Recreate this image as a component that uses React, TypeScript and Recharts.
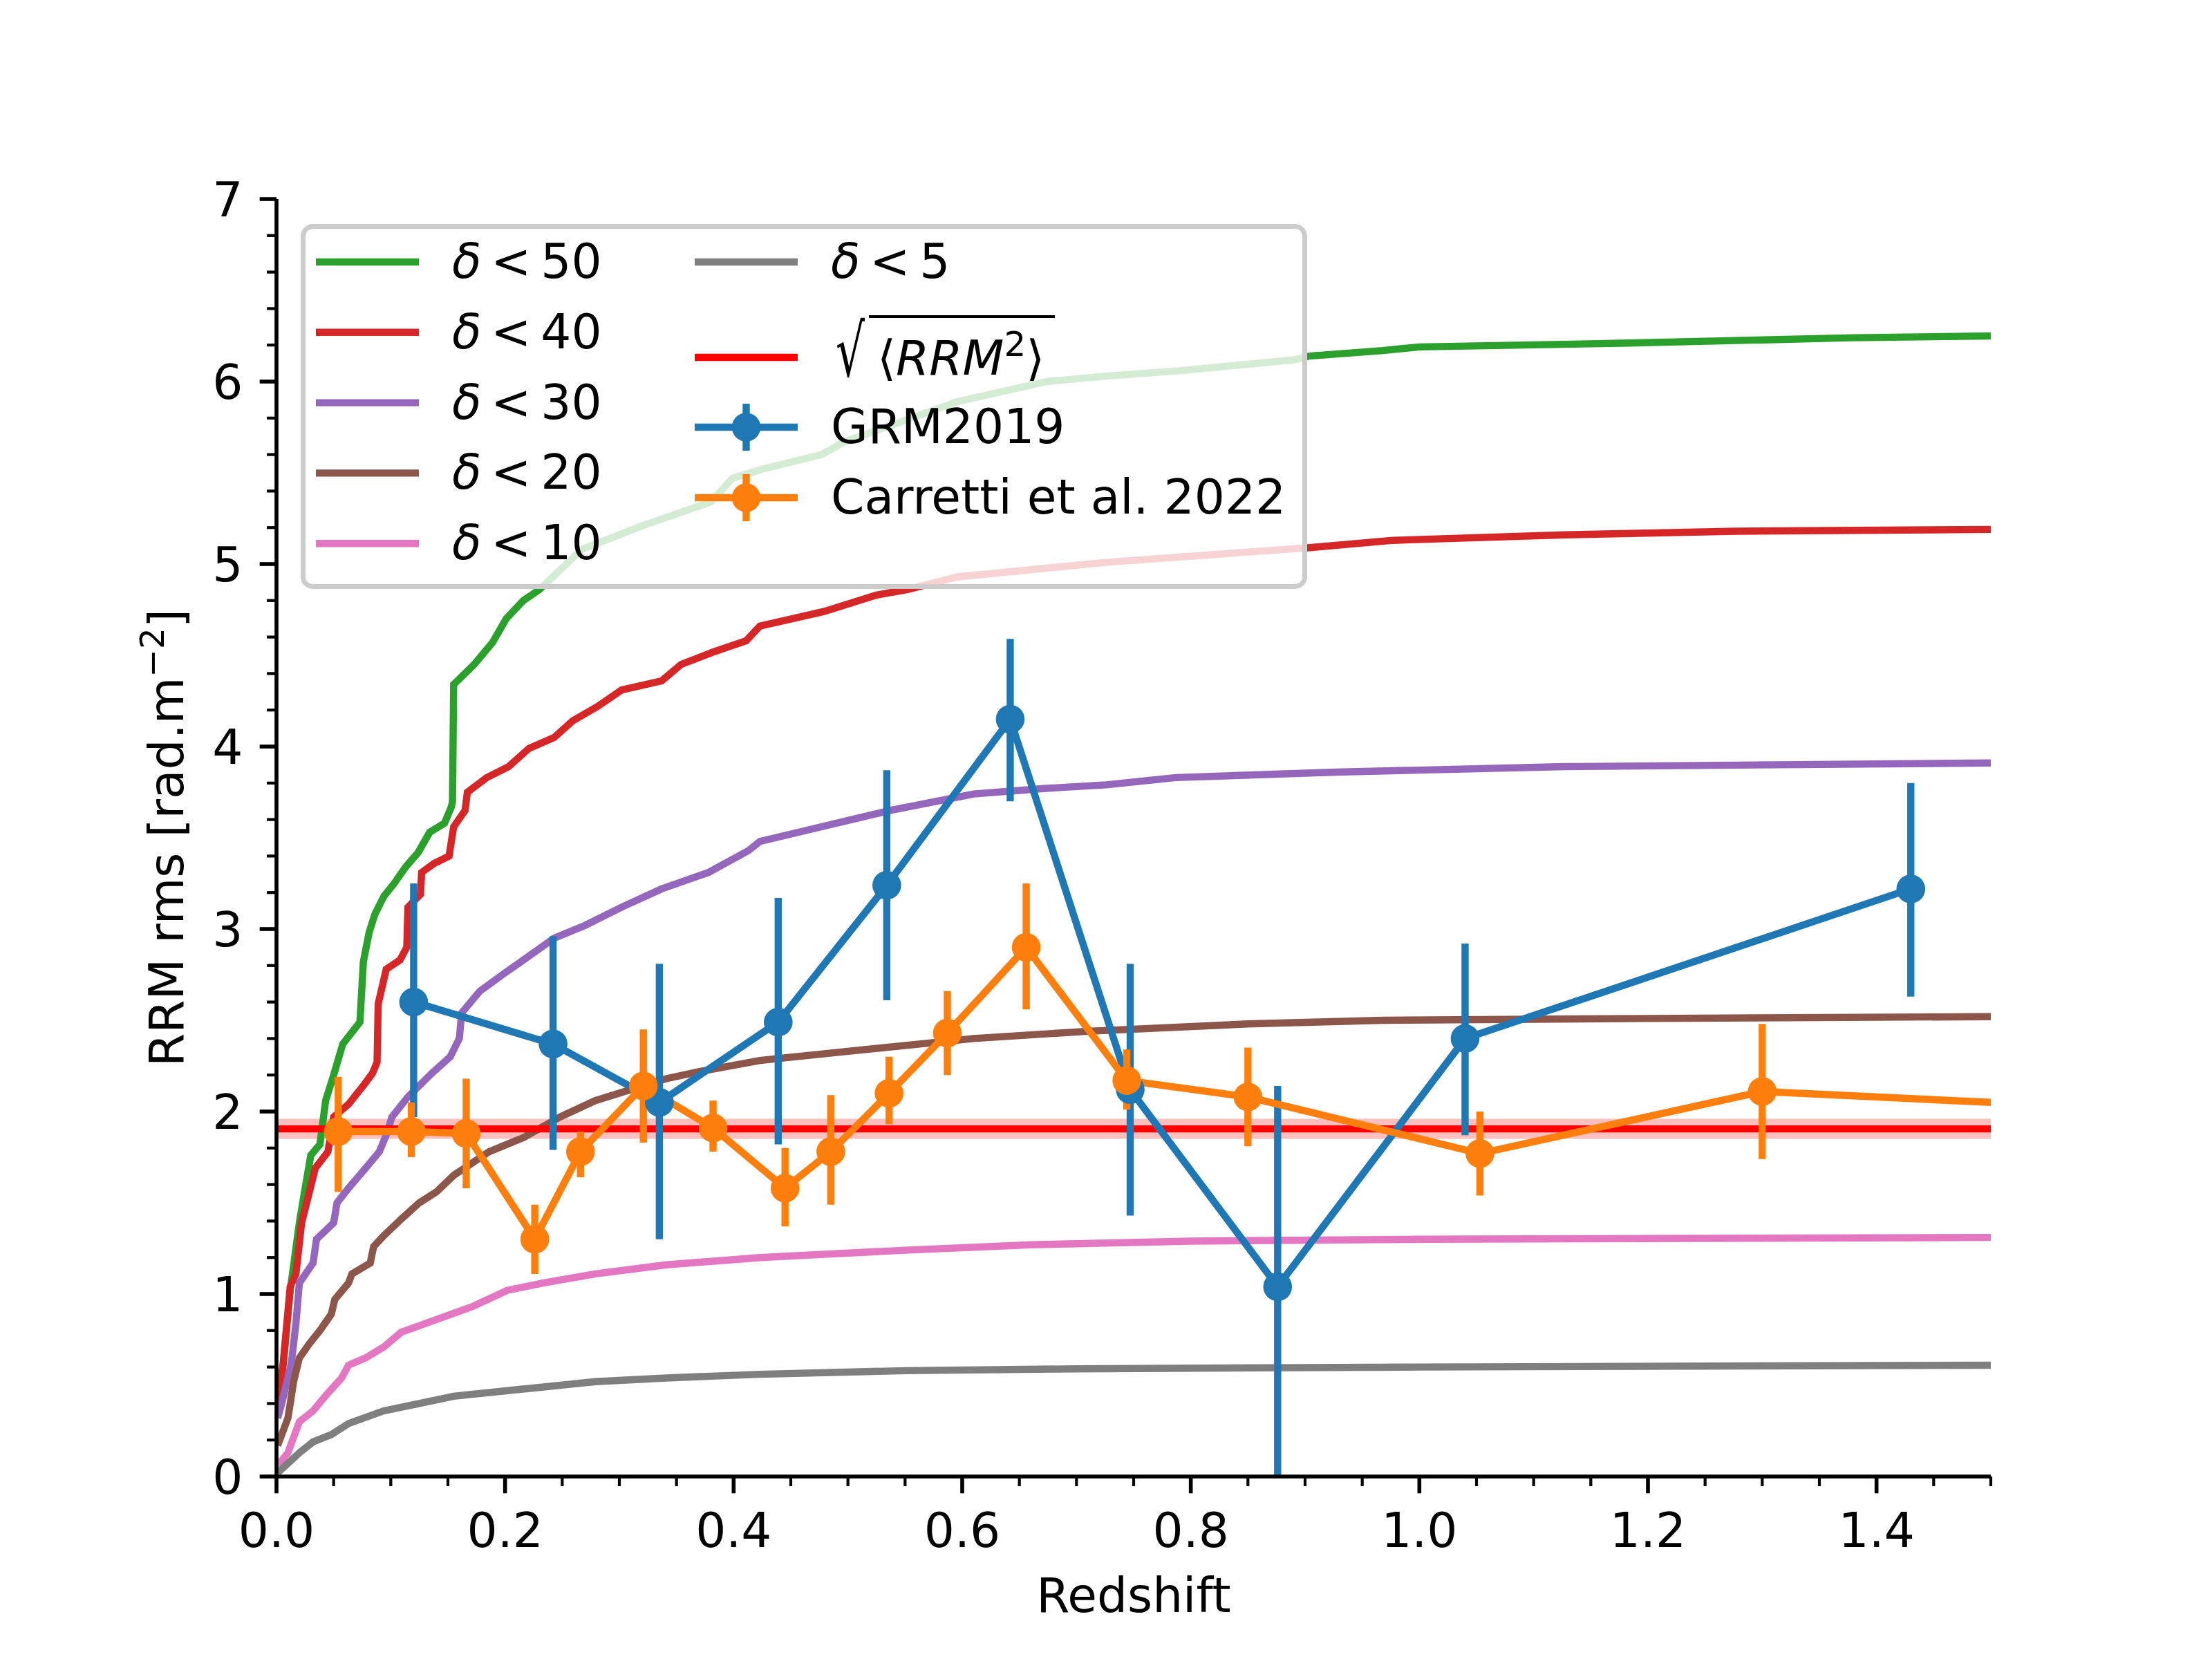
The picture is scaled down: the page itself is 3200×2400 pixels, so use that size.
import React from 'react';
import { ComposedChart, Line, Area, XAxis, YAxis, ErrorBar, Legend, Label } from 'recharts';

const FONT = '"DejaVu Sans", "Liberation Sans", sans-serif';
const FS = 69.4;
const LW = 10.4;

// ---- ticks ----
const xMajorTicks = [0, 0.2, 0.4, 0.6, 0.8, 1.0, 1.2, 1.4];
const xTickLabels = ['0.0', '0.2', '0.4', '0.6', '0.8', '1.0', '1.2', '1.4'];
const xMinorTicks = [0.05, 0.1, 0.15, 0.25, 0.3, 0.35, 0.45, 0.5, 0.55, 0.65, 0.7, 0.75, 0.85, 0.9, 0.95, 1.05, 1.1, 1.15, 1.25, 1.3, 1.35, 1.45, 1.5];
const yMajorTicks = [0, 1, 2, 3, 4, 5, 6, 7];
const yTickLabels = ['0', '1', '2', '3', '4', '5', '6', '7'];
const yMinorTicks = [0.2, 0.4, 0.6, 0.8, 1.2, 1.4, 1.6, 1.8, 2.2, 2.4, 2.6, 2.8, 3.2, 3.4, 3.6, 3.8, 4.2, 4.4, 4.6, 4.8, 5.2, 5.4, 5.6, 5.8, 6.2, 6.4, 6.6, 6.8];

// ---- cumulative curves [redshift, RRM rms] ----
const delta50: [number, number][] = [
  [0.001, 0.45], [0.006, 0.62], [0.012, 1.02], [0.020, 1.39], [0.024, 1.54], [0.030, 1.76], [0.038, 1.82],
  [0.043, 2.06], [0.050, 2.20], [0.058, 2.37], [0.073, 2.49], [0.076, 2.82], [0.081, 2.98], [0.086, 3.08],
  [0.094, 3.18], [0.103, 3.25], [0.113, 3.34], [0.124, 3.42], [0.134, 3.53], [0.147, 3.58], [0.153, 3.67],
  [0.154, 3.70], [0.155, 4.34], [0.173, 4.45], [0.189, 4.57], [0.201, 4.70], [0.216, 4.80], [0.230, 4.86],
  [0.267, 5.08], [0.320, 5.21], [0.380, 5.34], [0.399, 5.47], [0.425, 5.52], [0.477, 5.60], [0.497, 5.67],
  [0.596, 5.89], [0.674, 6.00], [0.726, 6.03], [0.792, 6.06], [0.891, 6.12], [0.904, 6.14], [0.968, 6.17],
  [1.0, 6.19], [1.177, 6.21], [1.378, 6.24], [1.5, 6.25],
];
const delta40: [number, number][] = [
  [0.001, 0.36], [0.005, 0.56], [0.012, 1.04], [0.017, 1.11], [0.022, 1.39], [0.028, 1.54], [0.034, 1.69],
  [0.045, 1.78], [0.050, 1.97], [0.063, 2.04], [0.077, 2.15], [0.084, 2.21], [0.088, 2.27], [0.089, 2.59],
  [0.096, 2.78], [0.108, 2.83], [0.114, 2.90], [0.115, 3.12], [0.126, 3.19], [0.127, 3.31], [0.138, 3.36],
  [0.151, 3.40], [0.155, 3.56], [0.165, 3.65], [0.167, 3.75], [0.184, 3.83], [0.203, 3.89], [0.221, 3.99],
  [0.243, 4.05], [0.259, 4.14], [0.281, 4.22], [0.302, 4.31], [0.337, 4.36], [0.354, 4.45], [0.383, 4.52],
  [0.411, 4.58], [0.423, 4.66], [0.479, 4.74], [0.525, 4.83], [0.552, 4.86], [0.596, 4.93], [0.727, 5.01],
  [0.904, 5.09], [0.977, 5.13], [1.127, 5.16], [1.277, 5.18], [1.5, 5.19],
];
const delta30: [number, number][] = [
  [0.001, 0.32], [0.005, 0.41], [0.013, 0.62], [0.017, 0.84], [0.020, 1.06], [0.032, 1.17], [0.035, 1.30],
  [0.050, 1.39], [0.053, 1.50], [0.063, 1.58], [0.078, 1.69], [0.090, 1.78], [0.096, 1.87], [0.101, 1.97],
  [0.115, 2.08], [0.136, 2.21], [0.152, 2.30], [0.160, 2.40], [0.162, 2.54], [0.178, 2.66], [0.200, 2.76],
  [0.216, 2.83], [0.243, 2.95], [0.270, 3.02], [0.302, 3.12], [0.337, 3.22], [0.378, 3.31], [0.413, 3.43],
  [0.423, 3.48], [0.463, 3.54], [0.537, 3.65], [0.610, 3.74], [0.671, 3.77], [0.726, 3.79], [0.787, 3.83],
  [0.927, 3.86], [1.127, 3.89], [1.5, 3.91],
];
const delta20: [number, number][] = [
  [0.001, 0.17], [0.010, 0.32], [0.015, 0.52], [0.020, 0.65], [0.029, 0.73], [0.038, 0.80], [0.048, 0.89],
  [0.051, 0.97], [0.063, 1.06], [0.066, 1.11], [0.082, 1.17], [0.085, 1.26], [0.094, 1.32], [0.109, 1.41],
  [0.125, 1.50], [0.140, 1.56], [0.155, 1.65], [0.186, 1.78], [0.217, 1.86], [0.248, 1.97], [0.279, 2.06],
  [0.310, 2.12], [0.341, 2.18], [0.371, 2.22], [0.423, 2.28], [0.5, 2.33], [0.61, 2.40], [0.71, 2.44],
  [0.85, 2.48], [0.968, 2.50], [1.2, 2.51], [1.5, 2.52],
];
const delta10: [number, number][] = [
  [0.001, 0.06], [0.010, 0.13], [0.020, 0.30], [0.032, 0.36], [0.044, 0.45], [0.057, 0.54], [0.063, 0.61],
  [0.078, 0.65], [0.094, 0.71], [0.109, 0.79], [0.140, 0.86], [0.171, 0.93], [0.202, 1.02], [0.233, 1.06],
  [0.279, 1.11], [0.341, 1.16], [0.423, 1.20], [0.55, 1.24], [0.66, 1.27], [0.8, 1.29], [1.0, 1.30], [1.5, 1.31],
];
const delta5: [number, number][] = [
  [0.001, 0.02], [0.020, 0.13], [0.032, 0.19], [0.048, 0.23], [0.063, 0.29], [0.094, 0.36], [0.125, 0.40],
  [0.155, 0.44], [0.217, 0.48], [0.279, 0.52], [0.341, 0.54], [0.423, 0.56], [0.55, 0.58], [0.7, 0.59],
  [1.0, 0.60], [1.5, 0.61],
];

// ---- mean RRM^2 level ----
const rmsLevel = 1.905;
const rmsBand: [number, number] = [1.85, 1.96];
const rmsSpan = [0, 1.5];

// ---- GRM2019 ----
const grmZ = [0.120, 0.242, 0.335, 0.439, 0.534, 0.642, 0.747, 0.876, 1.040, 1.430];
const grmV = [2.60, 2.37, 2.05, 2.49, 3.24, 4.15, 2.12, 1.04, 2.40, 3.22];
const grmLo = [1.97, 1.79, 1.30, 1.82, 2.61, 3.70, 1.43, 0.00, 1.87, 2.63];
const grmHi = [3.25, 2.96, 2.81, 3.17, 3.87, 4.59, 2.81, 2.14, 2.92, 3.80];

// ---- Carretti et al. 2022 ----
const carZ = [0.054, 0.118, 0.166, 0.226, 0.266, 0.321, 0.382, 0.445, 0.485, 0.536, 0.587, 0.656, 0.744, 0.850, 1.053, 1.300, 1.700];
const carV = [1.89, 1.89, 1.88, 1.30, 1.78, 2.14, 1.91, 1.58, 1.78, 2.10, 2.43, 2.90, 2.17, 2.08, 1.77, 2.11, 1.99];
const carLo = [1.56, 1.75, 1.58, 1.11, 1.64, 1.83, 1.78, 1.37, 1.49, 1.93, 2.20, 2.56, 2.01, 1.81, 1.54, 1.74, 1.70];
const carHi = [2.19, 2.05, 2.18, 1.49, 1.89, 2.45, 2.06, 1.80, 2.09, 2.30, 2.66, 3.25, 2.34, 2.35, 2.00, 2.48, 2.30];

const deltaThresholds = [50, 40, 30, 20, 10, 5];
const C = {
  d50: '#2ca02c', d40: '#d62728', d30: '#9467bd', d20: '#8c564b', d10: '#e377c2', d5: '#7f7f7f',
  rms: '#ff0000', grm: '#1f77b4', car: '#ff7f0e',
};
const curveColors = [C.d50, C.d40, C.d30, C.d20, C.d10, C.d5];
const curves = [delta50, delta40, delta30, delta20, delta10, delta5];

const toPts = (arr: [number, number][]) => arr.map(([z, v]) => ({ z, v }));
const errPts = (zs: number[], vs: number[], lo: number[], hi: number[]) =>
  zs.map((z, i) => ({ z, v: vs[i], err: [vs[i] - lo[i], hi[i] - vs[i]] }));

const grmData = errPts(grmZ, grmV, grmLo, grmHi);
const carData = errPts(carZ, carV, carLo, carHi);
const bandData = rmsSpan.map((z) => ({ z, range: rmsBand }));
const levelData = rmsSpan.map((z) => ({ z, v: rmsLevel }));

const xTicks = [...xMajorTicks, ...xMinorTicks].sort((a, b) => a - b);
const yTicks = [...yMajorTicks, ...yMinorTicks].sort((a, b) => a - b);

const XTick = (props: any) => {
  const { x, y, payload } = props;
  const idx = xMajorTicks.findIndex((t) => Math.abs(t - payload.value) < 1e-9);
  const major = idx >= 0;
  return (
    <g>
      <line x1={x} x2={x} y1={y} y2={y + (major ? 24.3 : 13.9)} stroke="#000" strokeWidth={major ? 5.6 : 4.2} />
      {major && (
        <text x={x} y={y + 102} textAnchor="middle" fontSize={FS} fontFamily={FONT} fill="#000">
          {xTickLabels[idx]}
        </text>
      )}
    </g>
  );
};

const YTick = (props: any) => {
  const { x, y, payload } = props;
  const idx = yMajorTicks.findIndex((t) => Math.abs(t - payload.value) < 1e-9);
  const major = idx >= 0;
  return (
    <g>
      <line x1={x - (major ? 24.3 : 13.9)} x2={x} y1={y} y2={y} stroke="#000" strokeWidth={major ? 5.6 : 4.2} />
      {major && (
        <text x={x - 48.6} y={y + 25} textAnchor="end" fontSize={FS} fontFamily={FONT} fill="#000">
          {yTickLabels[idx]}
        </text>
      )}
    </g>
  );
};

const XLabel = (props: any) => {
  const vb = props.viewBox || { x: 400, y: 2136, width: 2480, height: 264 };
  return (
    <text x={vb.x + vb.width / 2} y={vb.y + 196} textAnchor="middle" fontSize={FS} fontFamily={FONT} fill="#000">
      Redshift
    </text>
  );
};

const YLabel = (props: any) => {
  const vb = props.viewBox || { x: 0, y: 288, width: 400, height: 1848 };
  const cx = vb.x + vb.width - 135;
  const cy = vb.y + vb.height / 2;
  return (
    <text x={cx} y={cy} transform={`rotate(-90 ${cx} ${cy})`} textAnchor="middle" fontSize={FS} fontFamily={FONT} fill="#000">
      RRM rms [rad.m
      <tspan dy={-28} fontSize={48.6}>−2</tspan>
      <tspan dy={28}>]</tspan>
    </text>
  );
};

const LegendBox = () => {
  const W = 1456;
  const H = 528;
  const col1 = deltaThresholds.slice(0, 5).map((d, i) => ({ d, color: curveColors[i], y: 55 + i * 101.8 }));
  const hx1 = 22, hx2 = 171, tx1 = 219;
  const gx1 = 570, gx2 = 719, tx2 = 767;
  const deltaText = (d: number, x: number, y: number) => (
    <text x={x} y={y + 23} fontSize={FS} fontFamily={FONT} fill="#000">
      <tspan fontStyle="italic">δ</tspan>
      {'\u2009<\u2009'}
      {String(d)}
    </text>
  );
  const errHandle = (color: string, y: number) => (
    <g>
      <line x1={gx1} x2={gx2} y1={y} y2={y} stroke={color} strokeWidth={LW} />
      <line x1={(gx1 + gx2) / 2} x2={(gx1 + gx2) / 2} y1={y - 34} y2={y + 34} stroke={color} strokeWidth={LW} />
      <circle cx={(gx1 + gx2) / 2} cy={y} r={20.8} fill={color} />
    </g>
  );
  return (
    <svg width={W} height={H} style={{ display: 'block', overflow: 'visible' }}>
      <rect x={3.5} y={3.5} width={W - 7} height={H - 7} rx={14} ry={14} fill="#ffffff" fillOpacity={0.8} stroke="#cccccc" strokeWidth={7} />
      {col1.map((r) => (
        <g key={r.d}>
          <line x1={hx1} x2={hx2} y1={r.y} y2={r.y} stroke={r.color} strokeWidth={LW} />
          {deltaText(r.d, tx1, r.y)}
        </g>
      ))}
      <line x1={gx1} x2={gx2} y1={55} y2={55} stroke={C.d5} strokeWidth={LW} />
      {deltaText(deltaThresholds[5], tx2, 55)}
      <line x1={gx1} x2={gx2} y1={193} y2={193} stroke={C.rms} strokeWidth={LW} />
      <text transform="translate(774 220) scale(0.95 1.5)" fontSize={FS} fontFamily={FONT} fill="#000">√</text>
      <line x1={822} x2={1091} y1={134} y2={134} stroke="#000" strokeWidth={4} />
      <text x={834} y={218} fontSize={FS} fontFamily={FONT} fill="#000">
        <tspan>⟨</tspan>
        <tspan fontStyle="italic">RRM</tspan>
        <tspan dy={-27} fontSize={50}>2</tspan>
        <tspan dy={27}>⟩</tspan>
      </text>
      {errHandle(C.grm, 294)}
      <text x={tx2} y={294 + 23} fontSize={FS} fontFamily={FONT} fill="#000">GRM2019</text>
      {errHandle(C.car, 396)}
      <text x={tx2} y={396 + 23} fontSize={FS} fontFamily={FONT} fill="#000">Carretti et al. 2022</text>
    </svg>
  );
};

export default function App() {
  return (
    <div style={{ position: 'absolute', left: 0, top: 0, width: 3200, height: 2400, background: '#fff' }}>
      <ComposedChart width={3200} height={2400} margin={{ top: 288, right: 320, bottom: 0, left: 0 }} style={{ fontFamily: FONT }}>
        <XAxis
          xAxisId="main"
          dataKey="z"
          type="number"
          domain={[0, 1.5]}
          allowDataOverflow
          ticks={xTicks}
          interval={0}
          tick={<XTick />}
          tickLine={false}
          tickSize={0}
          tickMargin={0}
          height={264}
          axisLine={{ stroke: '#000', strokeWidth: 5.6 }}
        >
          <Label content={<XLabel />} />
        </XAxis>
        <XAxis xAxisId="top" orientation="top" type="number" domain={[0, 1.5]} height={0} tick={false} tickLine={false} axisLine={{ stroke: '#000', strokeWidth: 5.6 }} />
        <YAxis
          yAxisId="main"
          type="number"
          domain={[0, 7]}
          allowDataOverflow
          ticks={yTicks}
          interval={0}
          tick={<YTick />}
          tickLine={false}
          tickSize={0}
          tickMargin={0}
          width={400}
          axisLine={{ stroke: '#000', strokeWidth: 5.6 }}
        >
          <Label content={<YLabel />} />
        </YAxis>
        <YAxis yAxisId="right" orientation="right" type="number" domain={[0, 7]} width={0} tick={false} tickLine={false} axisLine={{ stroke: '#000', strokeWidth: 5.6 }} />

        {curves.map((c, i) => (
          <Line
            key={`d${deltaThresholds[i]}`}
            xAxisId="main"
            yAxisId="main"
            data={toPts(c)}
            dataKey="v"
            type="linear"
            stroke={curveColors[i]}
            strokeWidth={LW}
            dot={false}
            activeDot={false}
            isAnimationActive={false}
          />
        ))}

        <Area xAxisId="main" yAxisId="main" data={bandData} dataKey="range" type="linear" stroke="none" fill={C.rms} fillOpacity={0.25} isAnimationActive={false} activeDot={false} />
        <Line xAxisId="main" yAxisId="main" data={levelData} dataKey="v" type="linear" stroke={C.rms} strokeWidth={LW} dot={false} activeDot={false} isAnimationActive={false} />

        <Line
          xAxisId="main"
          yAxisId="main"
          data={grmData}
          dataKey="v"
          type="linear"
          stroke={C.grm}
          strokeWidth={LW}
          dot={{ r: 20.8, fill: C.grm, stroke: 'none', strokeWidth: 0 }}
          activeDot={false}
          isAnimationActive={false}
        >
          <ErrorBar dataKey="err" direction="y" width={0} stroke={C.grm} strokeWidth={LW} isAnimationActive={false} />
        </Line>
        <Line
          xAxisId="main"
          yAxisId="main"
          data={carData}
          dataKey="v"
          type="linear"
          stroke={C.car}
          strokeWidth={LW}
          dot={{ r: 20.8, fill: C.car, stroke: 'none', strokeWidth: 0 }}
          activeDot={false}
          isAnimationActive={false}
        >
          <ErrorBar dataKey="err" direction="y" width={0} stroke={C.car} strokeWidth={LW} isAnimationActive={false} />
        </Line>

        <Legend
          layout="horizontal"
          verticalAlign="middle"
          align="center"
          content={() => <LegendBox />}
          wrapperStyle={{ left: 435, top: 324, width: 1456, height: 528 }}
        />
      </ComposedChart>
    </div>
  );
}
